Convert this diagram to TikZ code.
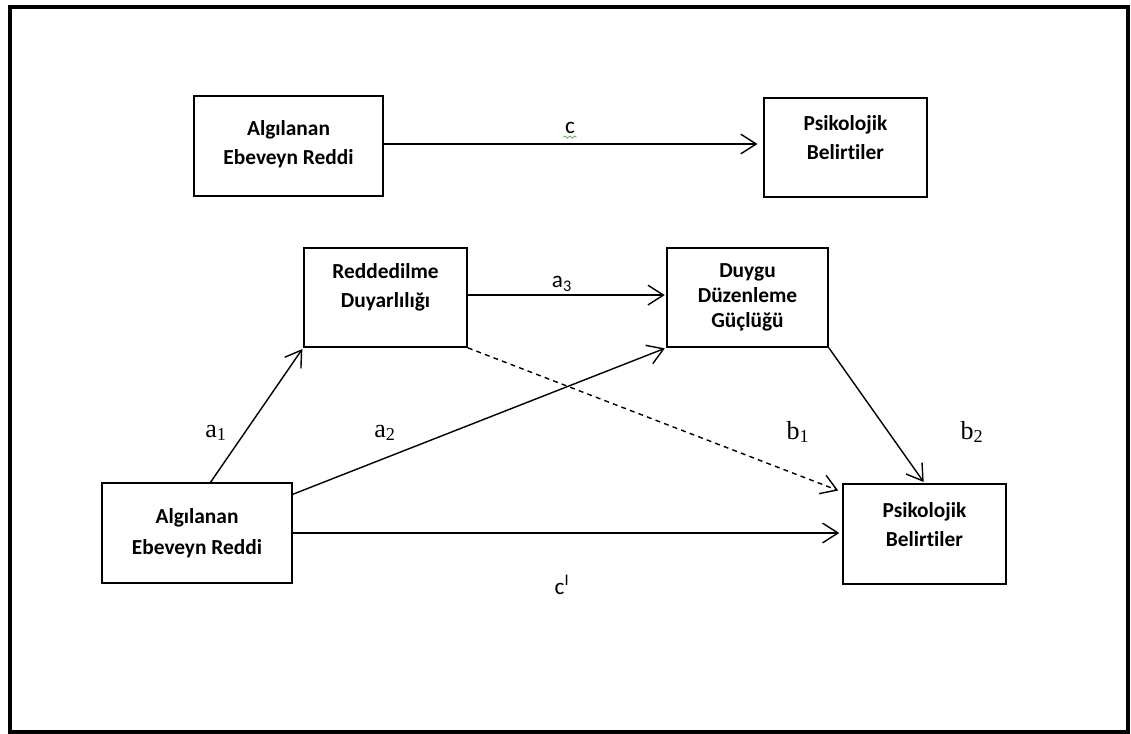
\documentclass[tikz,border=0pt]{standalone}
\usepackage{fontspec}
\setmainfont{Carlito}[Ligatures=CommonOff]
\newfontfamily\labelserif{Liberation Serif}
\usetikzlibrary{arrows.meta,decorations.pathmorphing}

\definecolor{spellgreen}{RGB}{96,180,80}

\tikzset{
  box/.style={draw, line width=1.2pt, inner sep=0pt},
  boxtext/.style={align=center, font=\fontsize{15.2}{21}\selectfont\bfseries},
  arr/.style={-{Straight Barb[length=11pt,width=14pt]}, line width=1pt, shorten >=1pt},
  lbl/.style={inner sep=1pt, font=\fontsize{16.5}{18}\selectfont},
  slbl/.style={inner sep=1pt, font=\labelserif\fontsize{18.5}{20}\selectfont},
}

\begin{document}
\begin{tikzpicture}[x=0.025cm, y=-0.025cm]
  \useasboundingbox (0,0) rectangle (1131,734);
  \draw[line width=3pt] (10,7) rectangle (1128,732);

  % total effect
  \node[box, minimum width=4.725cm, minimum height=2.5cm] (tl) at (288.5,146) {};
  \node[boxtext] (tl-t) at ([yshift=0.05cm]tl.center) {Algılanan\\Ebeveyn Reddi};
  \node[box, minimum width=4.075cm, minimum height=2.475cm] (tr) at (845.5,147.5) {};
  \node[boxtext] (tr-t) at ([yshift=0.25cm]tr.center) {Psikolojik\\Belirtiler};

  \draw[arr, shorten >=4pt] ([yshift=0.05cm]tl.east) -- ([yshift=0.05cm]tl.east -| tr.west);
  \node[lbl] (lc) at (570,128) {c};
  \draw[spellgreen, line width=0.6pt, decorate, decoration={snake, amplitude=0.7pt, segment length=3.5pt}]
      ([yshift=-2.5pt]lc.base west) -- ([yshift=-2.5pt]lc.base east);

  % mediation model
  \node[box, minimum width=4.075cm, minimum height=2.475cm] (rd) at (385.5,297.5) {};
  \node[boxtext] (rd-t) at ([yshift=0.25cm]rd.center) {Reddedilme\\Duyarlılığı};
  \node[box, minimum width=4.025cm, minimum height=2.475cm] (dg) at (747.5,297.5) {};
  \node[boxtext, font=\fontsize{15.2}{18}\selectfont\bfseries] (dg-t) at (dg) {Duygu\\Düzenleme\\Güçlüğü};
  \node[box, minimum width=4.75cm, minimum height=2.5cm] (ab) at (197,533) {};
  \node[boxtext, font=\fontsize{15.2}{22.5}\selectfont\bfseries] (ab-t) at (ab) {Algılanan\\Ebeveyn Reddi};
  \node[box, minimum width=4.075cm, minimum height=2.5cm] (br) at (924.5,534) {};
  \node[boxtext] (br-t) at ([yshift=0.24cm]br.center) {Psikolojik\\Belirtiler};

  \draw[arr] (ab.75) -- (rd.south west);
  \draw[arr] (ab.22) -- (dg.south west);
  \draw[arr] ([yshift=0.06cm]rd.east) -- ([yshift=0.06cm]rd.east -| dg.west);
  \draw[arr, dash pattern=on 3.5pt off 3pt, shorten >=3pt] (rd.south east) -- (br.153);
  \draw[arr] (dg.south east) -- (br.north);
  \draw[arr, shorten >=2pt] (ab.east) -- (ab.east -| br.west);

  \node[slbl] (la1) at (216,433) {a\textsubscript{1}};
  \node[slbl] (la2) at (385,433) {a\textsubscript{2}};
  \node[lbl] (la3) at (562,284) {a\textsubscript{3}};
  \node[slbl] (lb1) at (798,432) {b\textsubscript{1}};
  \node[slbl] (lb2) at (972,432) {b\textsubscript{2}};
  \node[lbl] (lcp) at (562,585) {c\textsuperscript{I}};
\end{tikzpicture}
\end{document}
